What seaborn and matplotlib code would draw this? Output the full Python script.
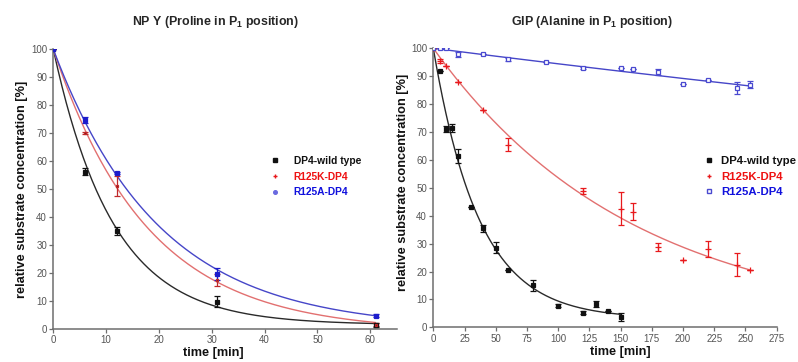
import numpy as np
import seaborn as sns
import matplotlib
matplotlib.use("Agg")
import matplotlib.pyplot as plt
from matplotlib.lines import Line2D

# ---- data ------------------------------------------------------------------
# NP Y panel
time_npy = [0, 6, 12, 31, 61]
wt_npy = [100, 56.2, 35.0, 9.8, 1.5]
wt_npy_err = [0, 1.2, 1.5, 2.0, 0.8]
k_npy = [100, 70.1, 51.2, 17.5, 1.5]
k_npy_err = [0, 0.5, 3.5, 2.2, 0.6]
a_npy = [100, 74.7, 55.8, 19.6, 4.8]
a_npy_err = [0, 1.2, 0.5, 2.2, 0.5]

# GIP panel
time_gip_wt = [0, 5, 10, 15, 20, 30, 40, 50, 60, 80, 100, 120, 130, 140, 150]
wt_gip = [100, 92, 71, 71.5, 61.5, 43, 35.5, 28.5, 20.5, 15, 7.7, 5.3, 8.3, 5.8, 3.7]
wt_gip_err = [0, 0, 1.0, 1.5, 2.5, 0, 1.2, 2.0, 0, 2.0, 0.5, 0.7, 1.0, 0, 1.3]
time_gip_k = [0, 5, 10, 20, 40, 60, 120, 150, 160, 180, 200, 220, 243, 254]
k_gip = [100, 95.5, 93.5, 88, 78, 65.5, 48.8, 42.5, 41.5, 28.8, 24, 28, 22.5, 20.5]
k_gip_err = [0, 0.6, 0, 0, 0, 2.2, 1.0, 6.0, 3.0, 1.5, 0, 2.8, 4.0, 0]
time_gip_a = [0, 5, 10, 20, 40, 60, 90, 120, 150, 160, 180, 200, 220, 243, 254]
a_gip = [100, 100, 100, 97.8, 97.8, 96, 95, 93, 92.8, 92.7, 91.5, 87.3, 88.8, 85.8, 87]
a_gip_err = [0, 0, 0, 0.8, 0, 0.5, 0, 0.4, 0, 0, 1.0, 0, 0, 2.2, 1.3]

# one-phase decay fits as drawn (plateau, rate per min), wt / R125K / R125A
fit_npy_plateau = [1.5, -1.0, 0.0]
fit_npy_rate = [0.088, 0.056, 0.050]
fit_gip_plateau = [3.0, 0.0, 0.0]
fit_gip_rate = [0.0272, 0.00624, 0.000572]

labels = ["DP4-wild type", "R125K-DP4", "R125A-DP4"]
colors = ["#111111", "#e8191c", "#1c1ccc"]
line_colors = ["#2a2a2a", "#e27070", "#4646c8"]
text_colors = ["#111111", "#ee1111", "#1010dd"]


def draw_series(ax, t, y, err, p, k, color, lcolor, marker, msize, mfc):
    tt = np.linspace(0, max(t), 300)
    sns.lineplot(x=tt, y=p + (100 - p) * np.exp(-k * tt), ax=ax,
                 color=lcolor, lw=1.0, zorder=2)
    ax.errorbar(t, y, yerr=err, fmt="none", ecolor=color, elinewidth=0.9,
                capsize=2.2, capthick=0.9, zorder=3)
    ax.plot(t, y, ls="none", marker=marker, ms=msize, color=color,
            mfc=mfc, mew=0.9, zorder=4)


sns.set_style("ticks")
plt.rcParams["font.family"] = ["Liberation Sans", "DejaVu Sans"]
plt.rcParams["mathtext.fontset"] = "custom"
plt.rcParams["mathtext.rm"] = "Liberation Sans"
plt.rcParams["mathtext.bf"] = "Liberation Sans:bold"

fig = plt.figure(figsize=(7.98, 3.62), dpi=100)
ax1 = fig.add_axes([53.3 / 798, 1 - 329 / 362, 343.4 / 798, 279.7 / 362])
ax2 = fig.add_axes([433.3 / 798, 1 - 327.3 / 362, 343.4 / 798, 279.0 / 362])

# NP Y
draw_series(ax1, time_npy, wt_npy, wt_npy_err, fit_npy_plateau[0], fit_npy_rate[0],
            colors[0], line_colors[0], "s", 2.2, colors[0])
draw_series(ax1, time_npy, k_npy, k_npy_err, fit_npy_plateau[1], fit_npy_rate[1],
            "#c0282a", line_colors[1], "s", 2.0, "#6a1010")
draw_series(ax1, time_npy, a_npy, a_npy_err, fit_npy_plateau[2], fit_npy_rate[2],
            colors[2], line_colors[2], "s", 3.0, colors[2])

# GIP
draw_series(ax2, time_gip_wt, wt_gip, wt_gip_err, fit_gip_plateau[0], fit_gip_rate[0],
            colors[0], line_colors[0], "s", 3.0, colors[0])
draw_series(ax2, time_gip_k, k_gip, k_gip_err, fit_gip_plateau[1], fit_gip_rate[1],
            colors[1], line_colors[1], "+", 4.0, colors[1])
draw_series(ax2, time_gip_a, a_gip, a_gip_err, fit_gip_plateau[2], fit_gip_rate[2],
            "#4a4ad0", line_colors[2], "s", 3.0, "white")

ax1.set_xlim(0, 65)
ax1.set_xticks([0, 10, 20, 30, 40, 50, 60])
ax2.set_xlim(0, 275)
ax2.set_xticks(np.arange(0, 276, 25))

for ax in (ax1, ax2):
    ax.set_ylim(0, 100)
    ax.set_yticks(np.arange(0, 101, 10))
    sns.despine(ax=ax)
    for s in ("left", "bottom"):
        ax.spines[s].set_color("#6e6e6e")
        ax.spines[s].set_linewidth(1.1)
    ax.tick_params(colors="#6e6e6e", labelcolor="#555555", labelsize=7,
                   length=3, width=0.9, pad=1.5)
    ax.set_xlabel("time [min]", fontsize=9.2, fontweight="bold", color="#111111")
    ax.set_ylabel("relative substrate concentration [%]", fontsize=9.2,
                  fontweight="bold", color="#111111")

ax1.yaxis.set_label_coords(-0.075, 0.5)
ax2.yaxis.set_label_coords(-0.071, 0.52)
ax1.xaxis.set_label_coords(0.465, -0.066)
ax2.xaxis.set_label_coords(0.544, -0.066)

fig.text(215 / 798, 1 - 22 / 362, r"NP Y (Proline in P$_\mathbf{1}$ position)",
         ha="center", va="center", fontsize=8.9, fontweight="bold")
fig.text(592 / 798, 1 - 22 / 362, r"GIP (Alanine in P$_\mathbf{1}$ position)",
         ha="center", va="center", fontsize=8.9, fontweight="bold")

# legends
h1 = [Line2D([], [], ls="none", marker="s", ms=2.2, color=colors[0]),
      Line2D([], [], ls="none", marker="+", ms=3.5, color=colors[1]),
      Line2D([], [], ls="none", marker="o", ms=2.6, color="#6a6ae0")]
leg1 = ax1.legend(h1, labels, loc="upper left", frameon=False,
                  bbox_to_anchor=(270 / 798, 1 - 156 / 362),
                  bbox_transform=fig.transFigure, borderpad=0,
                  borderaxespad=0, handlelength=1.0, handletextpad=1.3,
                  labelspacing=0.55, prop={"size": 7.4, "weight": "bold"})
h2 = [Line2D([], [], ls="none", marker="s", ms=2.2, color=colors[0]),
      Line2D([], [], ls="none", marker="+", ms=3.5, color=colors[1]),
      Line2D([], [], ls="none", marker="s", ms=2.4, color="#4a4ad0", mfc="white")]
leg2 = ax2.legend(h2, labels, loc="upper left", frameon=False,
                  bbox_to_anchor=(704 / 798, 1 - 156 / 362),
                  bbox_transform=fig.transFigure, borderpad=0,
                  borderaxespad=0, handlelength=0.9, handletextpad=0.6,
                  labelspacing=0.5, prop={"size": 8.2, "weight": "bold"})
for leg in (leg1, leg2):
    for txt, c in zip(leg.get_texts(), text_colors):
        txt.set_color(c)

fig.savefig("out.png", dpi=100)
